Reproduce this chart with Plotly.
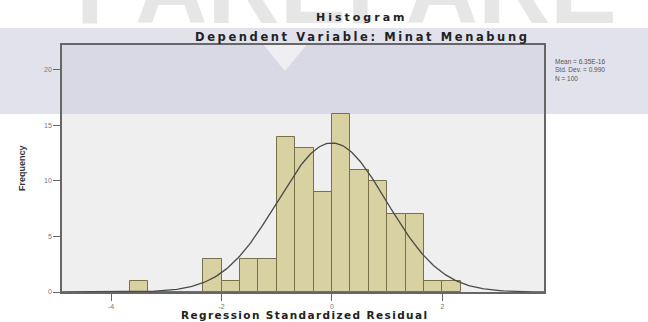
import numpy as np
import plotly.graph_objects as go

# ---- data ----
bin_width = 1 / 3
bin_starts = [-11/3, -10/3, -3.0, -8/3, -7/3, -2.0, -5/3, -4/3, -1.0, -2/3, -1/3,
              0.0, 1/3, 2/3, 1.0, 4/3, 5/3, 2.0]
counts = [1, 0, 0, 0, 3, 1, 3, 3, 14, 13, 9, 16, 11, 10, 7, 7, 1, 1]
mean_val = 6.35e-16
sd_val = 0.990
n_val = 100
x_tickvals = [-4, -2, 0, 2]
y_tickvals = [0, 5, 10, 15, 20]
stats_text = ["Mean = 6.35E-16", "Std. Dev. = 0.990", "N = 100"]

W, H = 648, 322
L, R, T, B = 62, 104, 45, 30
PW, PH = W - L - R, H - T - B


def px(x):
    return (x - L) / PW


def py(y):
    return (H - B - y) / PH


fig = go.Figure()

fig.add_trace(go.Bar(
    x=bin_starts, y=counts, width=bin_width, offset=0,
    marker=dict(color="#d8d2a2", line=dict(color="#77704a", width=1)),
    hoverinfo="skip", showlegend=False,
))

xs = np.linspace(-4.89, 3.84, 300)
curve = n_val * bin_width * np.exp(-0.5 * ((xs - mean_val) / sd_val) ** 2) / (sd_val * np.sqrt(2 * np.pi))
fig.add_trace(go.Scatter(x=xs, y=curve, mode="lines",
                         line=dict(color="#4a4a48", width=1.3),
                         hoverinfo="skip", showlegend=False))

shapes = [
    # watermark band
    dict(type="rect", xref="paper", yref="paper", x0=px(0), x1=px(W), y0=py(114), y1=py(28),
         fillcolor="rgba(190,190,215,0.45)", line=dict(width=0), layer="below"),
    dict(type="path", xref="paper", yref="paper",
         path=f"M {px(262)} {py(43)} L {px(308)} {py(43)} L {px(285)} {py(71)} Z",
         fillcolor="rgba(255,255,255,0.55)", line=dict(width=0), layer="below"),
]

ann = []
ann.append(dict(text="<b>PAREPARE</b>", x=px(346), y=py(46), xref="paper", yref="paper",
                xanchor="center", yanchor="bottom", showarrow=False,
                font=dict(family="Liberation Sans", size=100, color="#e6e6e6")))
ann.append(dict(text='<b><span style="letter-spacing:3px">Histogram</span></b>',
                x=px(362), y=py(17), xref="paper", yref="paper", xanchor="center", yanchor="middle",
                showarrow=False, font=dict(family="DejaVu Sans", size=11, color="#222")))
ann.append(dict(text='<b><span style="letter-spacing:2.6px">Dependent Variable: Minat Menabung</span></b>',
                x=px(362), y=py(36.5), xref="paper", yref="paper", xanchor="center", yanchor="middle",
                showarrow=False, font=dict(family="DejaVu Sans", size=11.5, color="#222")))
ann.append(dict(text='<b><span style="letter-spacing:1.4px">Regression Standardized Residual</span></b>',
                x=px(304), y=py(315), xref="paper", yref="paper", xanchor="center", yanchor="middle",
                showarrow=False, font=dict(family="DejaVu Sans", size=10.5, color="#222")))
ann.append(dict(text="<b>Frequency</b>", x=px(22), y=py(168), xref="paper", yref="paper",
                xanchor="center", yanchor="middle", textangle=-90, showarrow=False,
                font=dict(family="Liberation Sans", size=9, color="#333")))
ann.append(dict(text="<br>".join(stats_text), x=px(553), y=py(56), xref="paper", yref="paper",
                xanchor="left", yanchor="top", align="left", showarrow=False,
                font=dict(family="Liberation Sans", size=6.5, color="#555")))

fig.update_layout(
    width=W, height=H,
    margin=dict(l=L, r=R, t=T, b=B, pad=0),
    paper_bgcolor="white", plot_bgcolor="#efeff0",
    bargap=0, shapes=shapes, annotations=ann,
    xaxis=dict(range=[-4.89, 3.84], tickvals=x_tickvals, ticktext=["-4", "-2", "0", "2"],
               showgrid=False, zeroline=False, showline=True, linecolor="#666", linewidth=1.5,
               mirror=True, ticks="outside", ticklen=7, tickcolor="#666",
               tickfont=dict(family="Liberation Sans", size=7, color="#777")),
    yaxis=dict(range=[0, 22.25], tickvals=y_tickvals,
               showgrid=False, zeroline=False, showline=True, linecolor="#666", linewidth=1.5,
               mirror=True, ticks="outside", ticklen=7, tickcolor="#666",
               tickfont=dict(family="Liberation Sans", size=7, color="#777")),
)

fig.write_html("out.html", config={"displayModeBar": False},
               post_script="document.body.style.margin='0px';")
